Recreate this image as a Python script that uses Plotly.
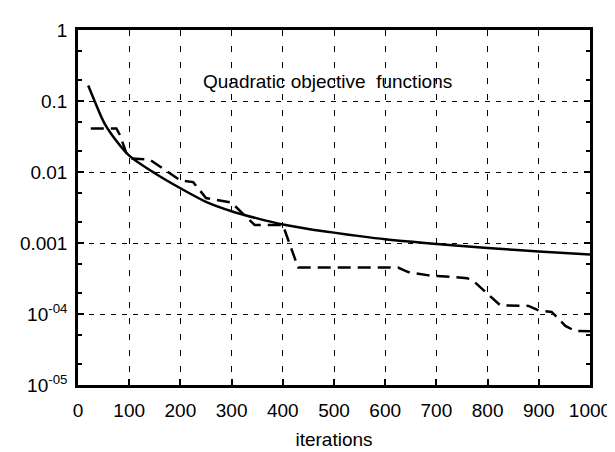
import plotly.graph_objects as go

# Solid curve
solid_iter = [20, 30, 52, 74, 100, 150, 200, 250, 300, 350, 400, 450, 500, 550, 600, 700, 800, 900, 1000]
solid_val = [0.165, 0.11, 0.048, 0.028, 0.017, 0.0096, 0.0059, 0.0038, 0.0028, 0.00222, 0.00182,
             0.00158, 0.0014, 0.00125, 0.00113, 0.00097, 0.00085, 0.00076, 0.00069]

# Dashed curve
dash_iter = [25, 75, 82, 95, 102, 140, 200, 225, 250, 300, 335, 345, 400, 430, 625, 645, 685,
             760, 775, 800, 825, 880, 900, 925, 952, 970, 1000]
dash_val = [0.041, 0.041, 0.033, 0.018, 0.0155, 0.015, 0.0076, 0.0072, 0.0043, 0.0037, 0.0021,
            0.0018, 0.0018, 0.00045, 0.00045, 0.00039, 0.00035, 0.00032, 0.00028, 0.00019,
            0.000132, 0.00013, 0.000112, 0.000107, 6.8e-5, 5.8e-5, 5.7e-5]

x_ticks = [0, 100, 200, 300, 400, 500, 600, 700, 800, 900, 1000]
y_tickvals = [1, 0.1, 0.01, 0.001, 1e-4, 1e-5]
y_ticktext = ["1", "0.1", "0.01", "0.001", "10<sup>-04</sup>", "10<sup>-05</sup>"]

title_text = "Quadratic objective\u00a0 functions"
x_title = "iterations"

FONT = "Liberation Sans, Arial, sans-serif"

fig = go.Figure()
fig.add_trace(go.Scatter(x=solid_iter, y=solid_val, mode="lines",
                         line=dict(color="black", width=2.5, shape="spline", smoothing=0.8)))
fig.add_trace(go.Scatter(x=dash_iter, y=dash_val, mode="lines",
                         line=dict(color="black", width=2.5, dash="13px,7px")))

fig.add_annotation(text=title_text, xref="paper", yref="paper", x=0.487, y=0.856,
                   showarrow=False, font=dict(size=19, color="black", family=FONT),
                   xanchor="center", yanchor="middle")

fig.update_layout(
    width=615, height=452,
    margin=dict(l=68, r=23, t=14, b=63),
    paper_bgcolor="white", plot_bgcolor="white",
    showlegend=False,
    font=dict(family=FONT, size=19, color="black"),
)
fig.update_xaxes(
    range=[0, 1000], tickvals=x_ticks, ticktext=[str(v) for v in x_ticks],
    showline=True, linecolor="black", linewidth=2.5, mirror=True,
    ticks="inside", ticklen=6, tickcolor="black", tickwidth=1.5,
    showgrid=True, gridcolor="black", gridwidth=1, griddash="6px,10px",
    zeroline=False, ticklabelstandoff=6,
    title=dict(text=x_title, standoff=14, font=dict(size=19)),
)
fig.update_yaxes(
    type="log", range=[-5, 0], tickvals=y_tickvals, ticktext=y_ticktext,
    showline=True, linecolor="black", linewidth=2.5, mirror="allticks",
    ticks="inside", ticklen=6, tickcolor="black", tickwidth=1.5,
    showgrid=True, gridcolor="black", gridwidth=1, griddash="5px,6px",
    zeroline=False, ticklabelstandoff=4,
    minor=dict(ticks="inside", ticklen=4, tickcolor="black", tickwidth=1.5, dtick="D2", showgrid=False),
)

fig.write_html("out.html")
